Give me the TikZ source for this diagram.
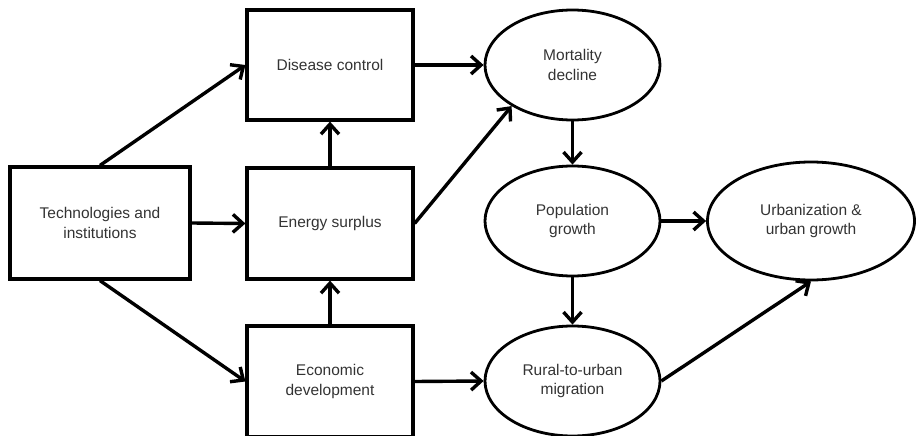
\documentclass[tikz,border=0pt]{standalone}
\usepackage{fontspec}
\setmainfont{Liberation Sans}
\usetikzlibrary{arrows.meta,shapes.geometric}

\begin{document}
\begin{tikzpicture}[x=1pt,y=-1pt,
  font=\fontsize{15.5}{19.5}\selectfont,
  box/.style={draw,line width=3.2pt,text=black!80,align=center,minimum width=166pt,minimum height=111pt},
  oval/.style={draw,ellipse,line width=2.8pt,text=black!80,align=center,minimum width=175pt,minimum height=110pt},
  arr/.style={line width=3.4pt,-{Straight Barb[length=10pt,width=18pt]}}]
\useasboundingbox (0,0) rectangle (916,436);
\node[box,minimum width=180pt,minimum height=112pt] (tech) at (100,223) {Technologies and\\institutions};
\node[box,minimum height=110pt] (dis) at (330,65) {Disease control};
\node[box] (ener) at (330,223.5) {Energy surplus};
\node[box] (econ) at (330,381.5) {Economic\\development};
\node[oval] (mort) at (572.5,65) {Mortality\\decline};
\node[oval] (pop) at (572.5,221) {Population\\growth};
\node[oval] (rur) at (572.5,381) {Rural-to-urban\\migration};
\node[oval,minimum width=207pt,minimum height=118pt] (urb) at (811,221) {Urbanization \&\\urban growth};
\draw[arr] (tech.north) -- (dis.west);
\draw[arr] (tech.east) -- (ener.west);
\draw[arr] (tech.south) -- (econ.west);
\draw[arr] (dis.east) -- (mort.west);
\draw[arr] (ener.north) -- (dis.south);
\draw[arr] (econ.north) -- (ener.south);
\draw[arr] (ener.east) -- (mort.214);
\draw[arr] (mort.south) -- (pop.north);
\draw[arr] (pop.south) -- (rur.north);
\draw[arr] (pop.east) -- (urb.west);
\draw[arr] (econ.east) -- (rur.west);
\draw[arr] (rur.east) -- (urb.south);
\end{tikzpicture}
\end{document}
